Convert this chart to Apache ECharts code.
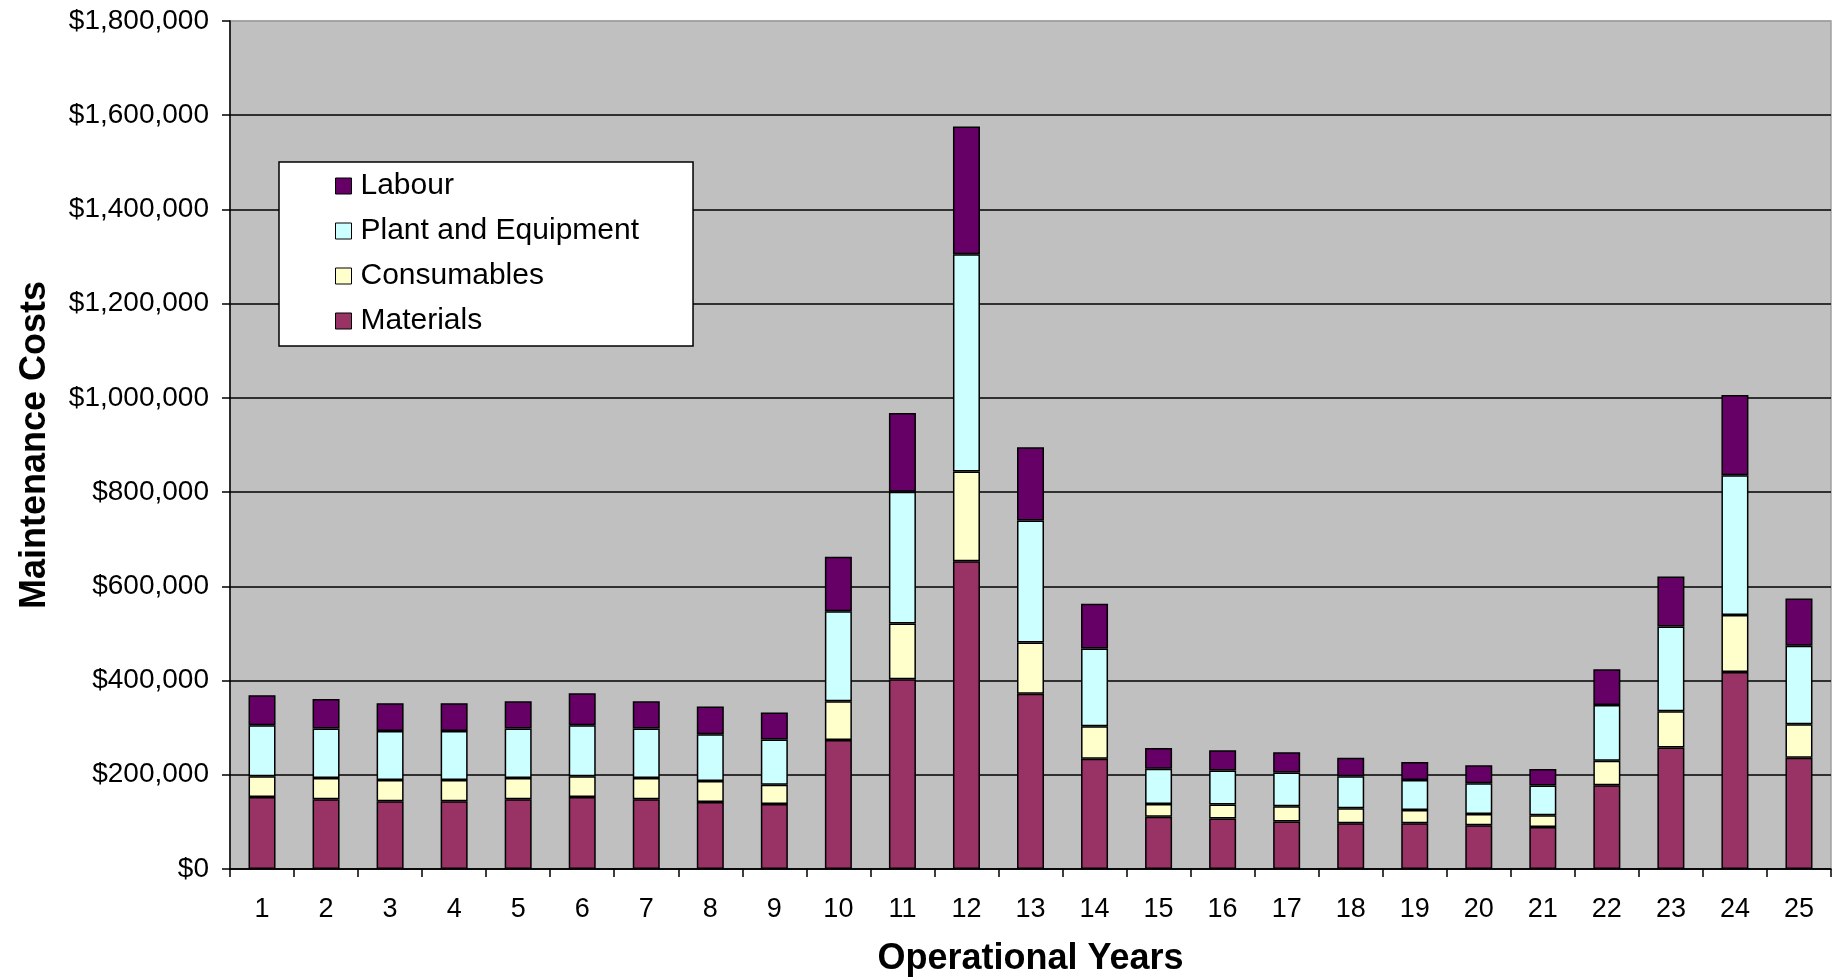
<!DOCTYPE html>
<html>
<head>
<meta charset="utf-8">
<script src="https://cdn.jsdelivr.net/npm/echarts@6/dist/echarts.min.js"></script>
<style>
html,body{margin:0;padding:0;background:#fff;}
#chart{width:1837px;height:977px;}
</style>
</head>
<body>
<div id="chart"></div>
<script>
const years = ['1','2','3','4','5','6','7','8','9','10','11','12','13','14','15','16','17','18','19','20','21','22','23','24','25'];
const materials   = [153000,148000,144000,144000,148000,153000,148000,142000,138000,274000,403000,653000,372000,234000,111000,107000,101000,97000,97000,93000,89000,178000,258000,418000,236000];
const consumables = [44000,45000,45000,45000,45000,44000,45000,45000,41000,82000,118000,191000,109000,69000,27000,30000,32000,32000,28000,24000,25000,52000,77000,121000,71000];
const plant       = [108000,105000,104000,104000,105000,108000,105000,99000,96000,191000,280000,461000,259000,165000,75000,72000,72000,68000,64000,65000,63000,118000,180000,297000,167000];
const labour      = [64000,63000,59000,59000,58000,68000,58000,59000,57000,116000,167000,271000,155000,95000,44000,43000,43000,39000,38000,38000,35000,76000,106000,170000,100000];
const yTicks = [0,200000,400000,600000,800000,1000000,1200000,1400000,1600000,1800000];

const FONT = 'Liberation Sans, Arial, sans-serif';
const chart = echarts.init(document.getElementById('chart'));

function money(v){
  return '$' + String(v).replace(/\B(?=(\d{3})+(?!\d))/g, ',');
}

function barSeries(name, data, color){
  return {
    name: name, type: 'bar', stack: 'total', data: data,
    barWidth: 27,
    itemStyle: {color: color, borderColor: '#000', borderWidth: 1.5},
    emphasis: {disabled: true}
  };
}

const gridLineColors = yTicks.map(function(v, i){ return i === yTicks.length - 1 ? '#A0A0A0' : '#000'; });

chart.setOption({
  animation: false,
  backgroundColor: '#ffffff',
  textStyle: {fontFamily: FONT, color: '#000'},
  grid: {
    left: 230, right: 6, top: 21, bottom: 108,
    outerBoundsMode: 'none',
    containLabel: false,
    show: true, backgroundColor: '#C0C0C0', borderColor: '#A0A0A0', borderWidth: 1.5
  },
  legend: {
    orient: 'vertical',
    left: 279, top: 162,
    data: ['Labour','Plant and Equipment','Consumables','Materials'],
    backgroundColor: '#ffffff',
    borderColor: '#000', borderWidth: 1.5,
    padding: [9, 54, 10, 56],
    itemWidth: 16, itemHeight: 16, itemGap: 15,
    icon: 'rect',
    itemStyle: {borderColor: '#000', borderWidth: 1},
    textStyle: {fontFamily: FONT, fontSize: 30, color: '#000', lineHeight: 30, padding: [0,0,0,4]}
  },
  xAxis: {
    type: 'category',
    data: years,
    name: 'Operational Years',
    nameLocation: 'middle',
    nameGap: 72,
    nameTextStyle: {fontFamily: FONT, fontSize: 36, fontWeight: 'bold', color: '#000'},
    axisLine: {lineStyle: {color: '#000', width: 1.5}},
    axisTick: {show: true, alignWithLabel: false, length: 8, lineStyle: {color: '#000', width: 1.5}},
    axisLabel: {fontFamily: FONT, fontSize: 27, color: '#000', margin: 27, interval: 0},
    splitLine: {show: false}
  },
  yAxis: {
    type: 'value',
    min: 0, max: 1800000, interval: 200000,
    name: 'Maintenance Costs',
    nameLocation: 'middle',
    nameRotate: 90,
    nameGap: 177,
    nameTextStyle: {fontFamily: FONT, fontSize: 36, fontWeight: 'bold', color: '#000'},
    axisLine: {show: true, lineStyle: {color: '#000', width: 1.5}},
    axisTick: {show: true, length: 8, lineStyle: {color: '#000', width: 1.5}},
    axisLabel: {fontFamily: FONT, fontSize: 28, color: '#000', margin: 21,
      formatter: function(v){ return yTicks.indexOf(v) >= 0 ? money(v) : ''; }},
    splitLine: {show: true, lineStyle: {color: gridLineColors, width: 1.5}}
  },
  series: [
    barSeries('Materials', materials, '#993366'),
    barSeries('Consumables', consumables, '#FFFFCC'),
    barSeries('Plant and Equipment', plant, '#CCFFFF'),
    barSeries('Labour', labour, '#660066')
  ]
});
</script>
</body>
</html>
